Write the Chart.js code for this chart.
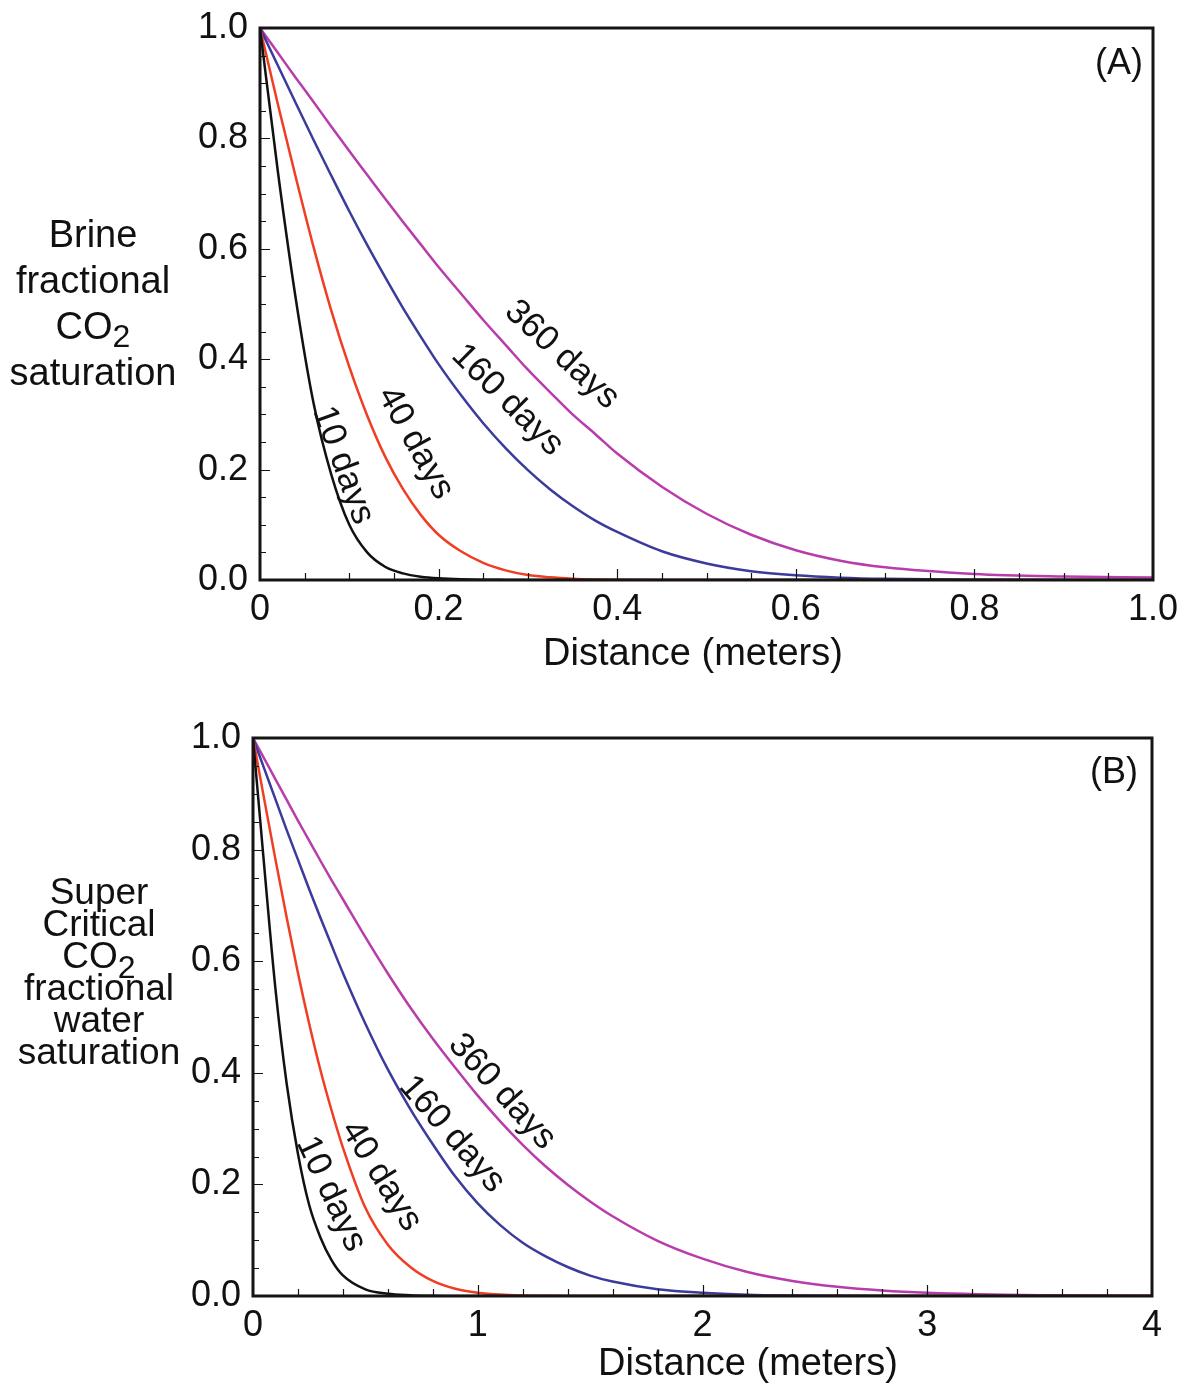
<!DOCTYPE html>
<html>
<head>
<meta charset="utf-8">
<script src="https://cdn.jsdelivr.net/npm/chart.js@4.4.1/dist/chart.umd.min.js"></script>
<style>
  html, body { margin: 0; padding: 0; background: #fff; }
  #wrap { position: relative; width: 1195px; height: 1385px; overflow: hidden; font-family: 'Liberation Sans', Arial, sans-serif; color: #111; }
  canvas { position: absolute; left: 0; }
  .txt { position: absolute; transform: translate(-50%, -50%); white-space: nowrap; }
  .ytitle { position: absolute; text-align: center; transform: translate(-50%, -50%); }
  .ytitle div { white-space: nowrap; }
  .sub { position: relative; font-size: 32px; }
</style>
</head>
<body>
<div id="wrap">
  <canvas id="chart-a" width="1195" height="710" style="top:-20px"></canvas>
  <canvas id="chart-b" width="1195" height="695" style="top:690px"></canvas>

  <div class="ytitle" style="left:93px; top:303px; font-size:38px;">
    <div style="height:46px; line-height:46px;">Brine</div>
    <div style="height:46px; line-height:46px;">fractional</div>
    <div style="height:46px; line-height:46px;">CO<span class="sub" style="top:8px">2</span></div>
    <div style="height:46px; line-height:46px;">saturation</div>
  </div>
  <div class="txt" style="left:1119px; top:62px; font-size:36px;">(A)</div>
  <div class="txt" style="left:693px; top:652px; font-size:38px;">Distance (meters)</div>

  <div class="ytitle" style="left:99px; top:972px; font-size:37px;">
    <div style="height:32px; line-height:32px;">Super</div>
    <div style="height:32px; line-height:32px;">Critical</div>
    <div style="height:32px; line-height:32px;">CO<span class="sub" style="top:10px">2</span></div>
    <div style="height:32px; line-height:32px;">fractional</div>
    <div style="height:32px; line-height:32px;">water</div>
    <div style="height:32px; line-height:32px;">saturation</div>
  </div>
  <div class="txt" style="left:1114px; top:771px; font-size:36px;">(B)</div>
  <div class="txt" style="left:748px; top:1362px; font-size:38px;">Distance (meters)</div>
</div>

<script>
// (A) brine fractional CO2 saturation vs distance (m)
const distA = [0, 0.02, 0.04, 0.06, 0.08, 0.10, 0.12, 0.14, 0.16, 0.18, 0.20, 0.225, 0.25, 0.275, 0.30, 0.325, 0.35, 0.375, 0.40, 0.45, 0.50, 0.55, 0.60, 0.65, 0.70, 0.80, 0.90, 1.00];
const brine10 = [1, 0.74, 0.51, 0.32, 0.19, 0.10, 0.05, 0.024, 0.012, 0.006, 0.003, 0.0012, 0.0005, 0.0002, 0, 0, 0, 0, 0, 0, 0, 0, 0, 0, 0, 0, 0, 0];
const brine40 = [1, 0.862, 0.73, 0.603, 0.487, 0.386, 0.298, 0.224, 0.165, 0.118, 0.082, 0.052, 0.031, 0.0175, 0.009, 0.0048, 0.0024, 0.0011, 0.0005, 0, 0, 0, 0, 0, 0, 0, 0, 0];
const brine160 = [1, 0.932, 0.864, 0.797, 0.732, 0.668, 0.607, 0.549, 0.493, 0.441, 0.391, 0.335, 0.284, 0.239, 0.199, 0.164, 0.134, 0.108, 0.087, 0.052, 0.030, 0.016, 0.0085, 0.0043, 0.0021, 0.0005, 0.0001, 0];
const brine360 = [1, 0.955, 0.910, 0.866, 0.821, 0.777, 0.734, 0.691, 0.649, 0.608, 0.567, 0.519, 0.471, 0.426, 0.381, 0.340, 0.300, 0.265, 0.229, 0.169, 0.120, 0.082, 0.054, 0.035, 0.023, 0.011, 0.0064, 0.0044];

// (B) supercritical CO2 fractional water saturation vs distance (m)
const distB = [0, 0.05, 0.1, 0.15, 0.2, 0.25, 0.3, 0.35, 0.4, 0.5, 0.6, 0.7, 0.8, 0.9, 1.0, 1.1, 1.2, 1.3, 1.4, 1.5, 1.6, 1.8, 2.0, 2.2, 2.4, 2.6, 2.8, 3.0, 3.5, 4.0];
const water10 = [1, 0.77, 0.55, 0.38, 0.255, 0.163, 0.105, 0.064, 0.037, 0.012, 0.004, 0.0015, 0.0005, 0, 0, 0, 0, 0, 0, 0, 0, 0, 0, 0, 0, 0, 0, 0, 0, 0];
const water40 = [1, 0.89, 0.782, 0.678, 0.579, 0.488, 0.405, 0.332, 0.266, 0.158, 0.092, 0.052, 0.027, 0.013, 0.006, 0.0025, 0.001, 0.0003, 0, 0, 0, 0, 0, 0, 0, 0, 0, 0, 0, 0];
const water160 = [1, 0.945, 0.89, 0.835, 0.782, 0.729, 0.678, 0.628, 0.579, 0.488, 0.406, 0.335, 0.272, 0.214, 0.166, 0.127, 0.0955, 0.0715, 0.052, 0.0366, 0.0259, 0.0122, 0.0057, 0.0023, 0.0009, 0.0003, 0, 0, 0, 0];
const water360 = [1, 0.963, 0.926, 0.889, 0.852, 0.816, 0.780, 0.745, 0.711, 0.643, 0.578, 0.517, 0.461, 0.409, 0.359, 0.313, 0.271, 0.233, 0.1995, 0.1695, 0.143, 0.099, 0.067, 0.043, 0.027, 0.0165, 0.0098, 0.0058, 0.0013, 0.0002];

const seriesNames = ['10 days', '40 days', '160 days', '360 days'];
const seriesColors = ['#111111', '#ef3e22', '#3b3b9c', '#b83dab'];

const yMajor = [0, 0.2, 0.4, 0.6, 0.8, 1.0];
const yMinor = [0.05, 0.1, 0.15, 0.25, 0.3, 0.35, 0.45, 0.5, 0.55, 0.65, 0.7, 0.75, 0.85, 0.9, 0.95];
const xMajorA = [0.2, 0.4, 0.6, 0.8];
const xMinorA = [0.05, 0.1, 0.15, 0.25, 0.3, 0.35, 0.45, 0.5, 0.55, 0.65, 0.7, 0.75, 0.85, 0.9, 0.95];
const xMajorB = [1, 2, 3];
const xMinorB = [0.2, 0.4, 0.6, 0.8, 1.2, 1.4, 1.6, 1.8, 2.2, 2.4, 2.6, 2.8, 3.2, 3.4, 3.6, 3.8];

// curve labels: [text, distance, saturation, angle in degrees]
const labelsA = [['10 days', 0.093, 0.208, 70], ['40 days', 0.174, 0.248, 61], ['160 days', 0.277, 0.326, 45], ['360 days', 0.338, 0.408, 43]];
const labelsB = [['10 days', 0.347, 0.183, 65], ['40 days', 0.57, 0.215, 58], ['160 days', 0.885, 0.29, 49], ['360 days', 1.108, 0.366, 48]];

const FONT = "'Liberation Sans', Arial, sans-serif";

const frameTicks = {
  id: 'frameTicks',
  afterDatasetsDraw(chart, _args, opts) {
    const { ctx, chartArea: a, scales: { x, y } } = chart;
    ctx.save();
    ctx.strokeStyle = '#151515';
    ctx.lineWidth = 1.2;
    ctx.beginPath();
    for (const v of opts.xMinor) {
      const px = Math.round(x.getPixelForValue(v)) + 0.5;
      ctx.moveTo(px, a.bottom); ctx.lineTo(px, a.bottom - 7);
    }
    for (const v of opts.xMajor) {
      const px = Math.round(x.getPixelForValue(v)) + 0.5;
      ctx.moveTo(px, a.bottom); ctx.lineTo(px, a.bottom - 11);
    }
    for (const v of yMinor) {
      const py = Math.round(y.getPixelForValue(v)) + 0.5;
      ctx.moveTo(a.left, py); ctx.lineTo(a.left + 6, py);
    }
    for (const v of yMajor) {
      const py = Math.round(y.getPixelForValue(v)) + 0.5;
      ctx.moveTo(a.left, py); ctx.lineTo(a.left + 10, py);
    }
    ctx.stroke();

    ctx.lineWidth = 3;
    ctx.strokeRect(a.left, a.top, a.right - a.left, a.bottom - a.top);

    ctx.fillStyle = '#111';
    ctx.font = '35px ' + FONT;
    ctx.textAlign = 'center';
    ctx.textBaseline = 'middle';
    for (const [text, dx, sy, ang] of opts.labels) {
      ctx.save();
      ctx.translate(x.getPixelForValue(dx), y.getPixelForValue(sy));
      ctx.rotate(ang * Math.PI / 180);
      ctx.fillText(text, 0, 0);
      ctx.restore();
    }
    ctx.restore();
  },
};

function makeChart(canvasId, dist, series, cfg) {
  const datasets = series.map((vals, i) => ({
    label: seriesNames[i],
    data: dist.map((d, j) => ({ x: d, y: vals[j] })),
    borderColor: seriesColors[i],
    backgroundColor: seriesColors[i],
    borderWidth: 2.5,
    pointRadius: 0,
    cubicInterpolationMode: 'monotone',
    fill: false,
  }));

  const tickFont = { family: FONT, size: 36 };

  return new Chart(document.getElementById(canvasId), {
    type: 'line',
    data: { datasets },
    options: {
      responsive: false,
      animation: false,
      layout: { padding: { top: cfg.padTop, right: cfg.padRight, left: 0, bottom: 0 } },
      plugins: {
        legend: { display: false },
        tooltip: { enabled: false },
        frameTicks: { xMajor: cfg.xMajor, xMinor: cfg.xMinor, labels: cfg.labels },
      },
      scales: {
        x: {
          type: 'linear',
          min: 0,
          max: cfg.xMax,
          grid: { display: false, drawTicks: false },
          border: { display: false },
          ticks: {
            stepSize: cfg.xStep,
            autoSkip: false,
            maxRotation: 0,
            padding: 8,
            color: '#111',
            font: tickFont,
            callback: cfg.xFmt,
          },
          afterFit: (s) => { s.height = cfg.xHeight; },
        },
        y: {
          min: 0,
          max: 1,
          grid: { display: false, drawTicks: false },
          border: { display: false },
          ticks: {
            stepSize: 0.2,
            padding: 12,
            color: '#111',
            font: tickFont,
            callback: (v) => v.toFixed(1),
          },
          afterFit: (s) => { s.width = cfg.yWidth; },
        },
      },
    },
    plugins: [frameTicks],
  });
}

makeChart('chart-a', distA, [brine10, brine40, brine160, brine360], {
  padTop: 48, padRight: 42, xHeight: 110, yWidth: 260,
  xMax: 1, xStep: 0.2, xMajor: xMajorA, xMinor: xMinorA, labels: labelsA,
  xFmt: (v) => (v === 0 ? '0' : v.toFixed(1)),
});

makeChart('chart-b', distB, [water10, water40, water160, water360], {
  padTop: 48, padRight: 43, xHeight: 89, yWidth: 253,
  xMax: 4, xStep: 1, xMajor: xMajorB, xMinor: xMinorB, labels: labelsB,
  xFmt: (v) => String(Math.round(v)),
});
</script>
</body>
</html>
